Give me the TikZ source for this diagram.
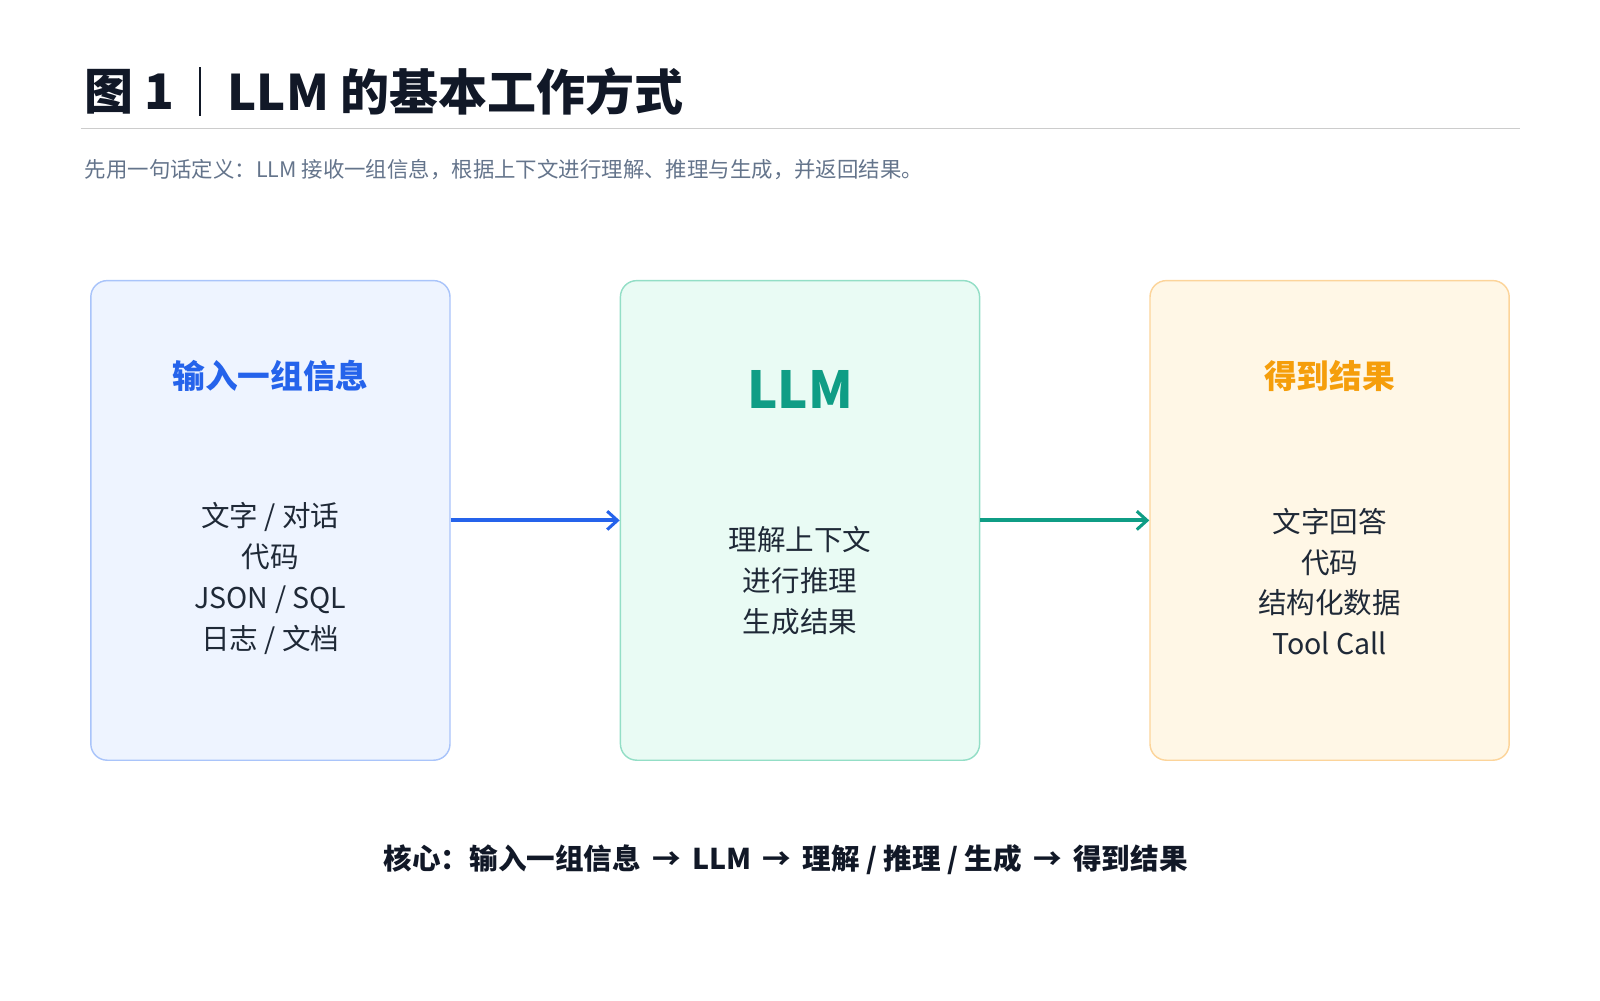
\documentclass[tikz,border=0pt]{standalone}
\usepackage{fontspec}
\setmainfont{Noto Sans CJK SC}
\usetikzlibrary{arrows.meta}
\definecolor{ttl}{HTML}{111827}
\definecolor{sub}{HTML}{64748B}
\definecolor{body}{HTML}{1F2937}
\definecolor{bfill}{HTML}{EEF4FF}\definecolor{bdraw}{HTML}{A9C4FA}\definecolor{btxt}{HTML}{2563EB}
\definecolor{gfill}{HTML}{E9FBF4}\definecolor{gdraw}{HTML}{93DEC6}\definecolor{gtxt}{HTML}{0F9D85}
\definecolor{ofill}{HTML}{FFF7E6}\definecolor{odraw}{HTML}{FCD49A}\definecolor{otxt}{HTML}{F59E0B}
\begin{document}
\begin{tikzpicture}[x=0.5pt,y=-0.5pt,
 box/.style={draw=#1,line width=0.7pt,rounded corners=8pt,minimum width=176pt,minimum height=235pt,inner sep=0pt},
 btitle/.style={font=\fontsize{16}{20}\selectfont\bfseries},
 btext/.style={font=\fontsize{14}{20}\selectfont,text=body,align=center},
 arr/.style={line width=2pt,-{Straight Barb[length=5pt,width=9pt,line width=1.5pt]}}]
\useasboundingbox (0,0) rectangle (1568,980);
\node[anchor=west,font=\fontsize{24}{28}\selectfont\bfseries,text=ttl] (t1) at (76,90) {图 1};
\coordinate (s1) at (196,66); \coordinate (s2) at (196,114);
\draw[ttl,line width=0.8pt] (s1) -- (s2);
\node[anchor=west,font=\fontsize{24}{28}\selectfont\bfseries,text=ttl] (t2) at (216,90) {LLM 的基本工作方式};
\coordinate (r1) at (79,126); \coordinate (r2) at (1490,126);
\draw[gray!40,line width=0.8pt] (r1) -- (r2);
\node[anchor=west,font=\fontsize{10.5}{12}\selectfont,text=sub] (st) at (76,166) {先用一句话定义：LLM 接收一组信息，根据上下文进行理解、推理与生成，并返回结果。};
\node[box=bdraw,fill=bfill] (b1) at (265,510) {};
\node[box=gdraw,fill=gfill] (b2) at (784,510) {};
\node[box=odraw,fill=ofill] (b3) at (1303,510) {};
\node[btitle,text=btxt] (h1) at (265,368) {输入一组信息};
\node[font=\fontsize{25}{28}\selectfont\bfseries,text=gtxt] (h2) at (784,382) {LLM};
\node[btitle,text=otxt] (h3) at (1303,368) {得到结果};
\node[btext] (x1) at (265,567) {文字 / 对话\\代码\\JSON / SQL\\日志 / 文档};
\node[btext] (x2) at (784,569) {理解上下文\\进行推理\\生成结果};
\node[btext] (x3) at (1303,570) {文字回答\\代码\\结构化数据\\Tool Call};
\draw[arr,btxt] (b1.east) -- (b2.west);
\draw[arr,gtxt] (b2.east) -- (b3.west);
\node[font=\fontsize{14}{16}\selectfont\bfseries,text=ttl] (core) at (770,842) {核心：输入一组信息 \,→\, LLM \,→\, 理解 / 推理 / 生成 \,→\, 得到结果};
\end{tikzpicture}
\end{document}
